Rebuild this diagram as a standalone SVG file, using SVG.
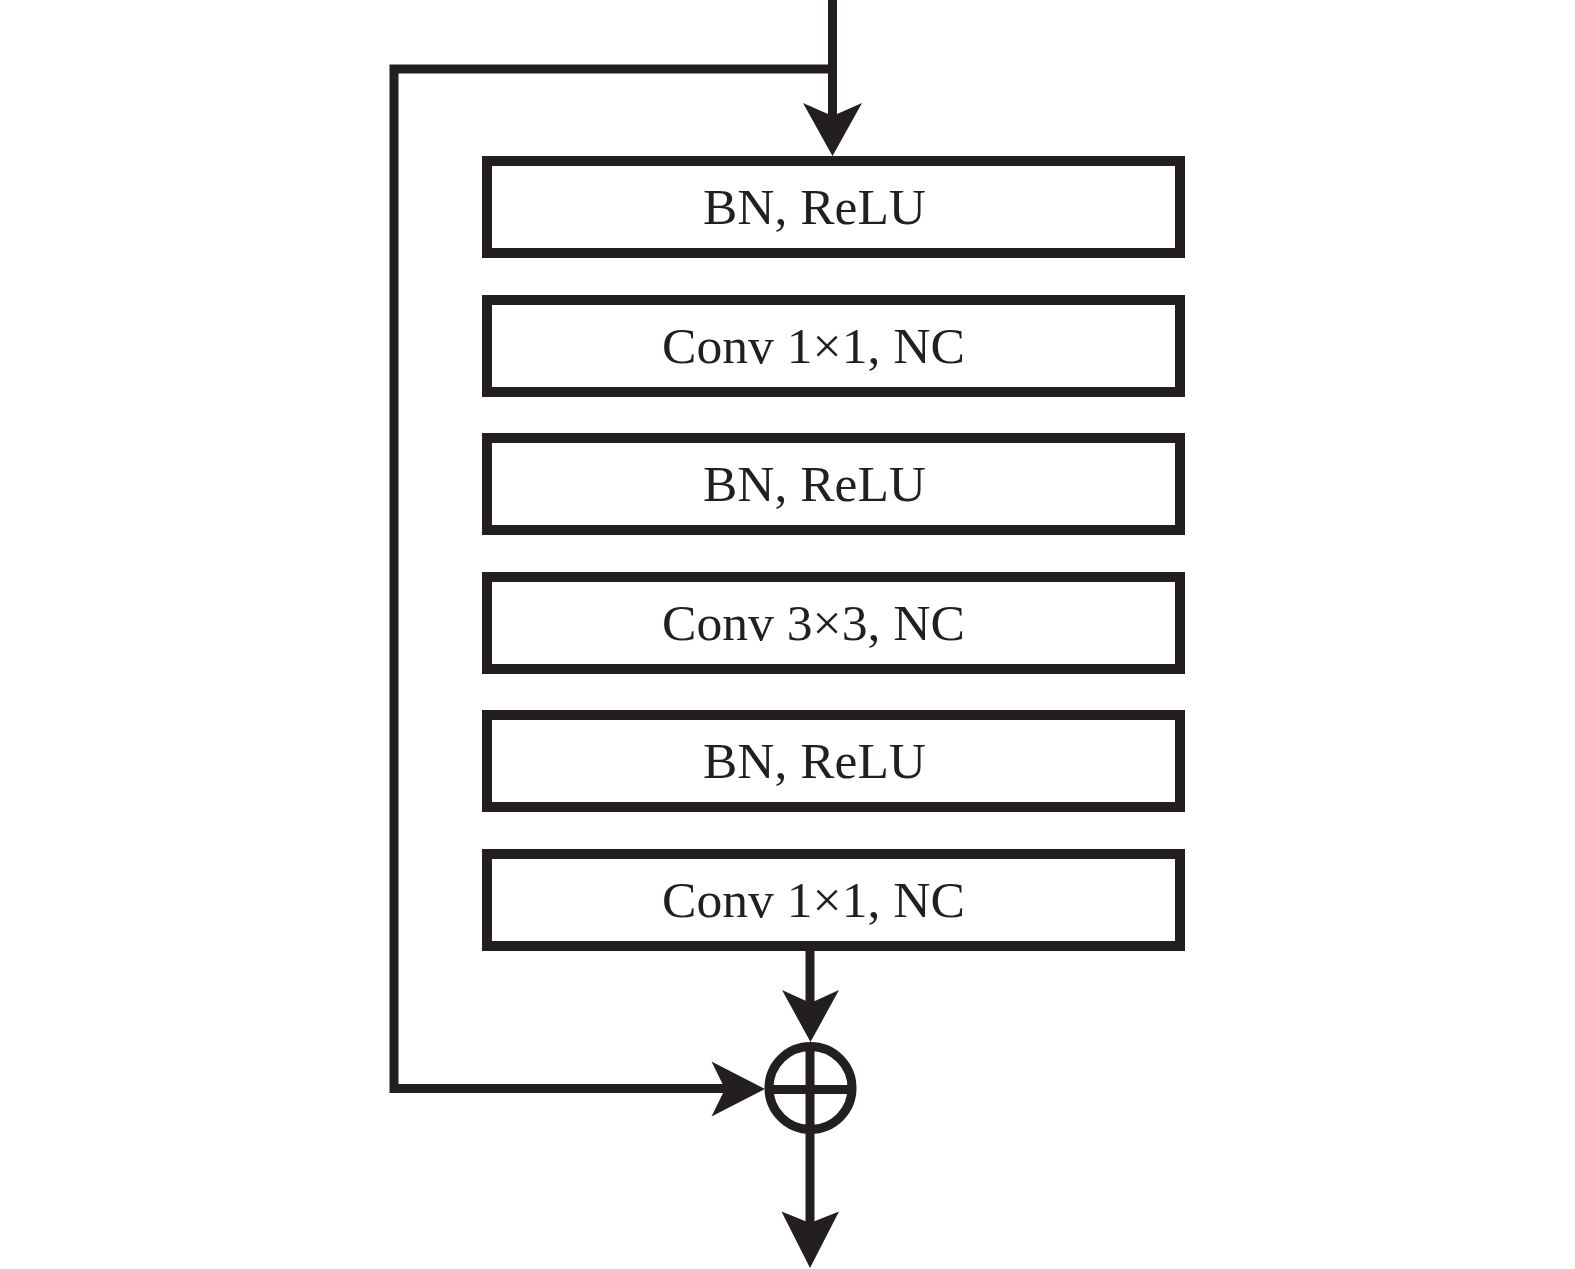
<svg xmlns="http://www.w3.org/2000/svg" width="1575" height="1269" viewBox="0 0 1575 1269">
<style>
.box{fill:#ffffff;stroke:#231f20;stroke-width:10;stroke-linejoin:miter}
.lbl{font-family:"Liberation Serif","Times New Roman",serif;font-size:50px;fill:#231f20;text-anchor:middle}
.ln{fill:none;stroke:#231f20;stroke-width:9;stroke-linejoin:miter;stroke-linecap:butt}
.ah{fill:#231f20;stroke:none}
</style>
<rect x="0" y="0" width="1575" height="1269" fill="#ffffff"/>
<g id="connectors">
<path class="ln" d="M832.5 0 V118"/>
<path class="ln" d="M832.5 69 H394 V1088.5 H730"/>
<path class="ln" d="M810 951 V1005"/>
<path class="ln" d="M810 1133 V1226"/>
<path class="ah" d="M803 103 L832.5 156 L862 103 L832.5 116 Z"/>
<path class="ah" d="M782 990 L810.5 1042 L839 990 L810.5 1003 Z"/>
<path class="ah" d="M711.5 1061.5 L765 1089 L711.5 1116.5 L725 1089 Z"/>
<path class="ah" d="M781.5 1211.5 L810 1268 L839 1211.5 L810 1223 Z"/>
</g>
<g id="box1"><rect class="box" x="487" y="161" width="693" height="92"/><text class="lbl" x="814.5" y="223.5" textLength="223" lengthAdjust="spacingAndGlyphs">BN, ReLU</text></g>
<g id="box2"><rect class="box" x="487" y="300" width="693" height="92"/><text class="lbl" x="813.5" y="362.5" textLength="303" lengthAdjust="spacingAndGlyphs">Conv 1×1, NC</text></g>
<g id="box3"><rect class="box" x="487" y="438" width="693" height="92"/><text class="lbl" x="814.5" y="500.5" textLength="223" lengthAdjust="spacingAndGlyphs">BN, ReLU</text></g>
<g id="box4"><rect class="box" x="487" y="577" width="693" height="92"/><text class="lbl" x="813.5" y="639.5" textLength="303" lengthAdjust="spacingAndGlyphs">Conv 3×3, NC</text></g>
<g id="box5"><rect class="box" x="487" y="715" width="693" height="92"/><text class="lbl" x="814.5" y="777.5" textLength="223" lengthAdjust="spacingAndGlyphs">BN, ReLU</text></g>
<g id="box6"><rect class="box" x="487" y="854" width="693" height="92"/><text class="lbl" x="813.5" y="916.5" textLength="303" lengthAdjust="spacingAndGlyphs">Conv 1×1, NC</text></g>
<g id="sum">
<circle cx="810.5" cy="1088" r="41.5" fill="#ffffff" stroke="#231f20" stroke-width="9"/>
<path class="ln" d="M810 1046.5 V1129.5 M769 1089.5 H852"/>
</g>
</svg>
